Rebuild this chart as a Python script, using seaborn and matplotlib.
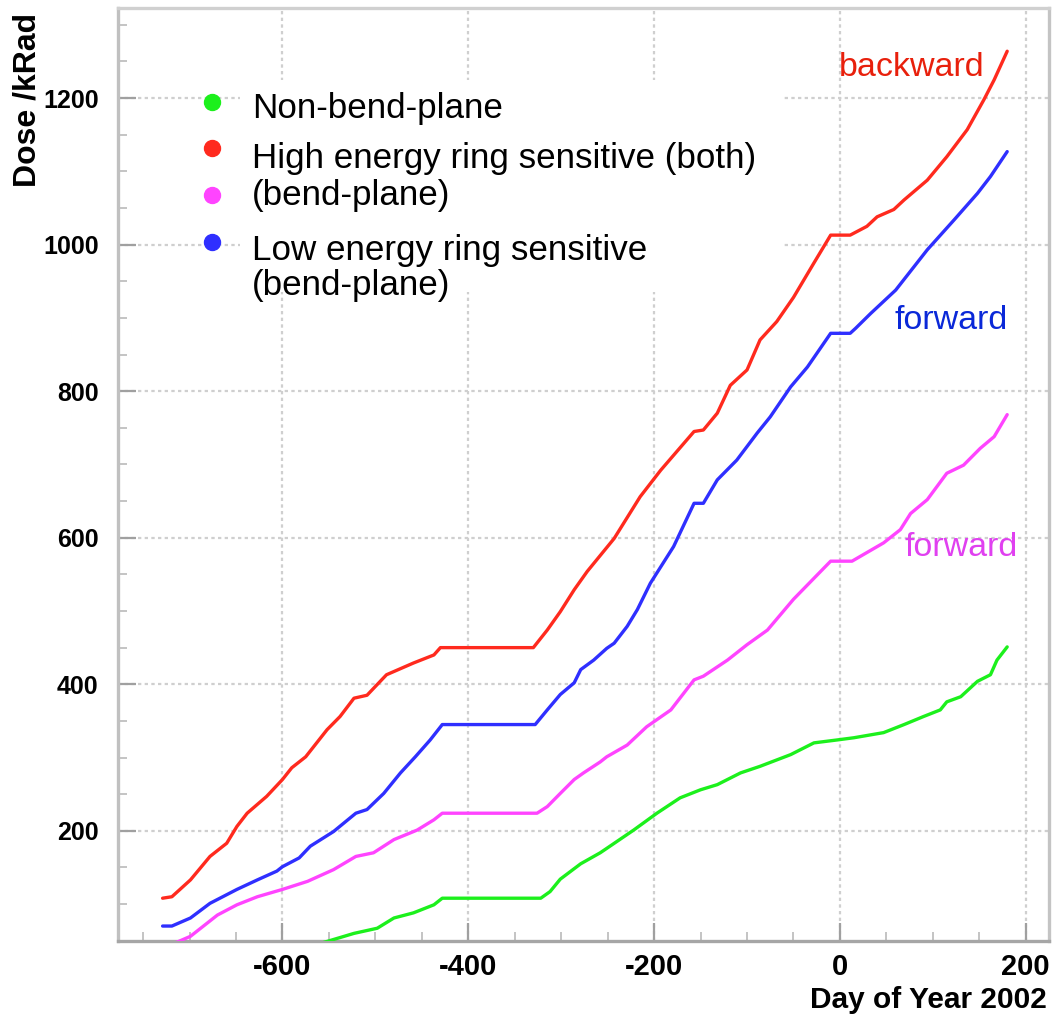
import numpy as np
import pandas as pd
import matplotlib
matplotlib.use("Agg")
import matplotlib.pyplot as plt
from matplotlib.patches import Rectangle
import seaborn as sns

# ---------------- data ----------------
red_day = [-729, -719, -699, -678, -660, -649, -638, -617, -600, -590, -575, -552, -538, -523,
           -509, -488, -459, -437, -430, -330, -315, -301, -286, -272, -243, -215, -193, -157,
           -147, -132, -118, -100, -86, -68, -50, -28, -10, 11, 29, 40, 58, 69, 94, 115, 137,
           155, 166, 180]
red_dose = [108, 110, 133, 165, 183, 206, 224, 247, 270, 286, 301, 338, 356, 381,
            385, 413, 429, 440, 450, 450, 474, 499, 529, 554, 599, 656, 692, 745,
            747, 770, 808, 829, 870, 895, 928, 975, 1013, 1013, 1025, 1038, 1048, 1061, 1088,
            1120, 1157, 1198, 1225, 1264]

blue_day = [-729, -719, -699, -678, -649, -627, -606, -600, -582, -570, -545, -521, -509, -491,
            -473, -457, -441, -428, -328, -315, -301, -286, -279, -265, -251, -243, -229, -218,
            -204, -179, -157, -147, -132, -111, -89, -75, -53, -35, -10, 11, 17, 33, 60, 94,
            123, 148, 162, 180]
blue_dose = [70, 70, 81, 101, 120, 133, 145, 151, 163, 179, 199, 224, 229, 251,
             279, 301, 324, 345, 345, 365, 386, 402, 420, 433, 449, 456, 479, 502,
             538, 588, 647, 647, 679, 706, 743, 765, 806, 833, 879, 879, 886, 906, 938, 993,
             1034, 1070, 1093, 1127]

mag_day = [-729, -719, -699, -685, -670, -649, -627, -600, -573, -545, -521, -502, -480, -455,
           -437, -428, -326, -315, -301, -286, -276, -258, -251, -229, -208, -182, -157, -147,
           -121, -100, -78, -50, -10, 13, 47, 65, 76, 94, 115, 133, 151, 166, 180]
mag_dose = [44, 45, 56, 70, 85, 99, 110, 120, 131, 147, 165, 170, 188, 201,
            215, 224, 224, 233, 251, 270, 279, 294, 301, 317, 342, 365, 406, 411,
            433, 454, 474, 516, 568, 568, 593, 611, 633, 652, 688, 699, 722, 738, 768]

green_day = [-560, -552, -523, -498, -480, -459, -437, -428, -322, -312, -301, -279, -258, -251,
             -222, -197, -172, -150, -132, -107, -86, -53, -28, -3, 15, 47, 69, 90, 108, 115,
             130, 148, 162, 169, 180]
green_dose = [46, 49, 60, 67, 81, 88, 99, 108, 108, 117, 134, 155, 170, 176,
              201, 224, 245, 256, 263, 279, 288, 304, 320, 324, 327, 334, 345, 356, 365, 376,
              383, 404, 413, 433, 451]

x_ticks = [-600, -400, -200, 0, 200]
y_ticks = [200, 400, 600, 800, 1000, 1200]

legend_labels = ["Non-bend-plane", "High energy ring sensitive (both)", "(bend-plane)",
                 "Low energy ring sensitive", "(bend-plane)"]

# ---------------- styling ----------------
sns.set_theme(style="white")
plt.rcParams['font.family'] = ['Liberation Sans', 'DejaVu Sans']
plt.rcParams['axes.unicode_minus'] = False

C_GREEN = "#1cf01c"
C_RED = "#ff2a1e"
C_MAG = "#ff44ff"
C_BLUE = "#2f2fff"

fig = plt.figure(figsize=(10.52, 10.18), dpi=100)
ax = fig.add_axes([118 / 1052, 1 - 940.7 / 1018, 931 / 1052, 932.7 / 1018])

series = [
    (green_day, green_dose, C_GREEN),
    (mag_day, mag_dose, C_MAG),
    (blue_day, blue_dose, C_BLUE),
    (red_day, red_dose, C_RED),
]
for d, v, c in series:
    df = pd.DataFrame({"day": d, "dose": v})
    sns.lineplot(data=df, x="day", y="dose", ax=ax, color=c, linewidth=2.4,
                 sort=False, estimator=None, zorder=3)

ax.set_xlim(-777, 225)
ax.set_ylim(50, 1323)

ax.set_xticks(x_ticks)
ax.set_yticks(y_ticks)
ax.set_xticks(np.arange(-750, 226, 50), minor=True)
ax.set_yticks(np.arange(50, 1323, 50), minor=True)

ax.set_axisbelow(True)
ax.grid(True, which="major", color="#cfcfcf", linestyle=(0, (1.5, 1.5)), linewidth=1.6)
ax.grid(False, which="minor")

ax.tick_params(axis="both", which="major", direction="in", length=13, width=1.6,
               color="#a0a0a0", bottom=True, left=True, top=False, right=False,
               labelcolor="black")
ax.tick_params(axis="both", which="minor", direction="in", length=6.5, width=1.4,
               color="#c4c4c4", bottom=True, left=True, top=False, right=False)
ax.tick_params(axis="x", which="major", pad=9, labelsize=21)
ax.tick_params(axis="y", which="major", pad=14, labelsize=18)
for lab in ax.get_xticklabels() + ax.get_yticklabels():
    lab.set_fontweight("bold")

for side, col in [("left", "#c0c0c0"), ("bottom", "#a6a6a6"), ("top", "#d0d0d0"), ("right", "#c4c4c4")]:
    ax.spines[side].set_color(col)
    ax.spines[side].set_linewidth(2.4)

ax.set_xlabel("Day of Year 2002", fontsize=21.5, fontweight="bold", color="black")
ax.xaxis.label.set(ha="right", va="center")
ax.xaxis.set_label_coords(0.998, -0.0636)

ax.set_ylabel("Dose /kRad", fontsize=23, fontweight="bold", color="black")
ax.yaxis.label.set(ha="center", va="center")
ax.yaxis.set_label_coords(-0.0977, 0.9013)

# legend (ROOT-style box, white fill hiding grid)
ax.add_patch(Rectangle((0.131, 0.6955), 0.583, 0.2273, transform=ax.transAxes,
                       facecolor="white", edgecolor="none", zorder=1))
mk_x = 0.101
for yy, c in [(0.899, C_GREEN), (0.850, C_RED), (0.7996, C_MAG), (0.749, C_BLUE)]:
    ax.plot([mk_x], [yy], marker="o", markersize=11.5, color=c, transform=ax.transAxes,
            linestyle="none", zorder=4, clip_on=False)
tx = 0.144
for yy, t in zip([0.882, 0.8285, 0.789, 0.7298, 0.692], legend_labels):
    ax.text(tx, yy, t, transform=ax.transAxes, fontsize=25.2, va="baseline", ha="left",
            color="black", zorder=4)

# curve annotations
ax.text(156, 1230, "backward", color="#e8200c", fontsize=24.5, ha="right", va="baseline", zorder=4)
ax.text(181, 885, "forward", color="#0a28d8", fontsize=24.5, ha="right", va="baseline", zorder=4)
ax.text(191, 575, "forward", color="#e040f0", fontsize=24.5, ha="right", va="baseline", zorder=4)

fig.savefig("out.png", dpi=100, facecolor="white")
